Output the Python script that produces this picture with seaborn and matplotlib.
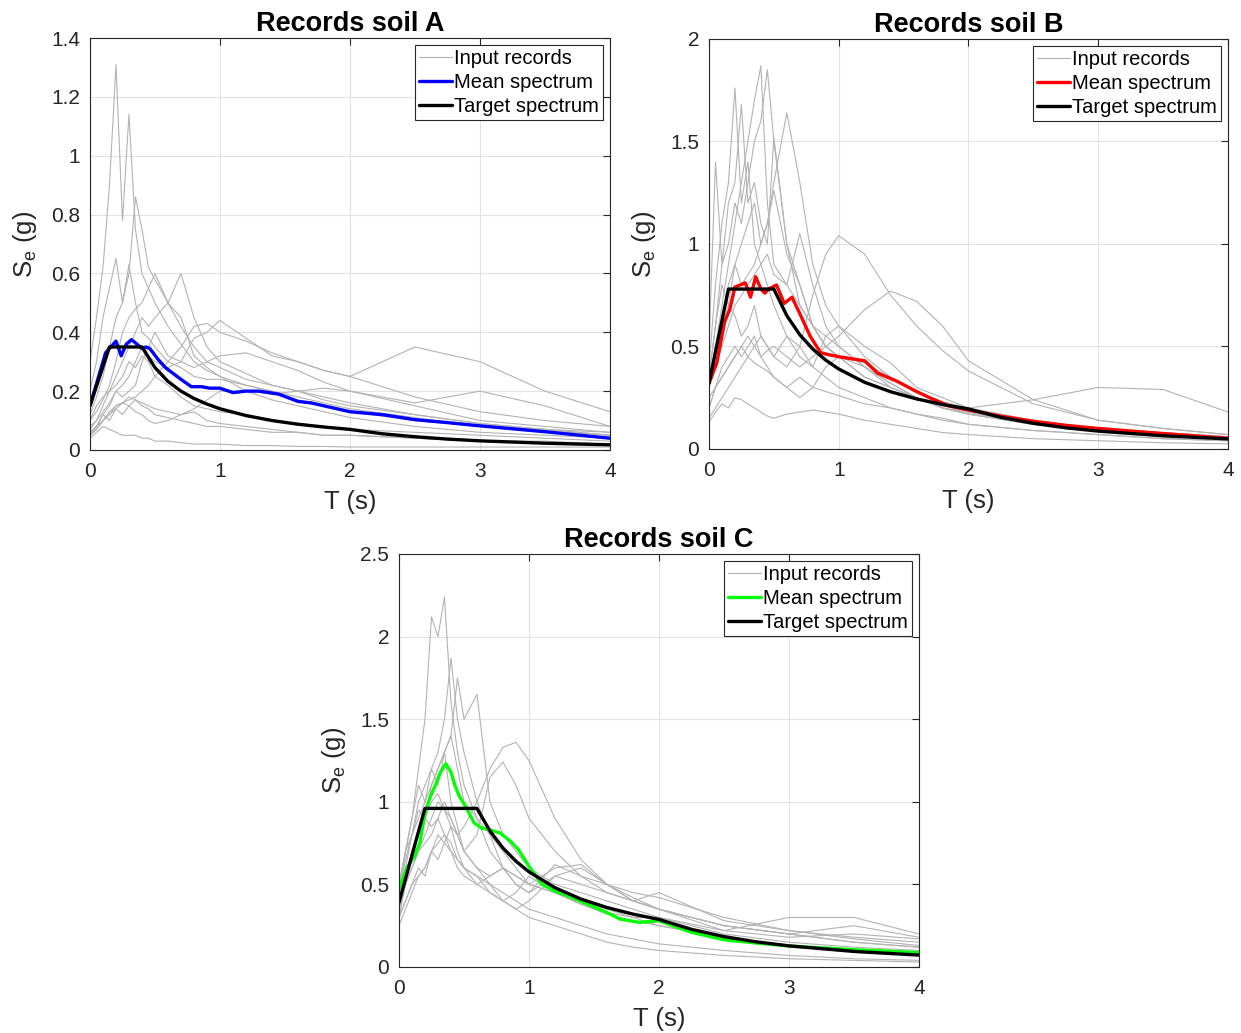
import numpy as np
import pandas as pd
import matplotlib
matplotlib.use("Agg")
import matplotlib.pyplot as plt
from matplotlib.lines import Line2D
from matplotlib.ticker import FuncFormatter
import seaborn as sns

# ---------------- data ----------------
periods = [0, 0.05, 0.1, 0.15, 0.2, 0.25, 0.3, 0.35, 0.4, 0.45, 0.5, 0.6, 0.7, 0.8,
           0.9, 1.0, 1.2, 1.4, 1.6, 1.8, 2.0, 2.5, 3.0, 3.5, 4.0]

records_A = [
    [0.30, 0.45, 0.62, 0.90, 1.31, 0.78, 1.14, 0.75, 0.60, 0.55, 0.50, 0.42, 0.36, 0.30, 0.27, 0.25, 0.22, 0.20, 0.18, 0.16, 0.14, 0.11, 0.08, 0.065, 0.05],
    [0.12, 0.18, 0.25, 0.35, 0.45, 0.50, 0.60, 0.86, 0.75, 0.62, 0.58, 0.50, 0.42, 0.35, 0.30, 0.28, 0.24, 0.22, 0.20, 0.17, 0.15, 0.12, 0.09, 0.07, 0.05],
    [0.20, 0.30, 0.45, 0.55, 0.65, 0.50, 0.63, 0.50, 0.40, 0.38, 0.35, 0.30, 0.28, 0.25, 0.24, 0.24, 0.22, 0.20, 0.17, 0.15, 0.13, 0.10, 0.08, 0.07, 0.06],
    [0.08, 0.10, 0.15, 0.20, 0.25, 0.30, 0.35, 0.40, 0.45, 0.42, 0.45, 0.50, 0.60, 0.45, 0.35, 0.30, 0.26, 0.22, 0.20, 0.18, 0.16, 0.12, 0.09, 0.07, 0.05],
    [0.10, 0.13, 0.17, 0.22, 0.30, 0.40, 0.45, 0.48, 0.50, 0.55, 0.60, 0.50, 0.45, 0.32, 0.28, 0.25, 0.20, 0.17, 0.15, 0.13, 0.11, 0.08, 0.06, 0.05, 0.04],
    [0.06, 0.08, 0.12, 0.15, 0.20, 0.22, 0.25, 0.30, 0.35, 0.32, 0.30, 0.28, 0.30, 0.38, 0.40, 0.44, 0.38, 0.32, 0.30, 0.27, 0.25, 0.18, 0.13, 0.10, 0.08],
    [0.05, 0.07, 0.10, 0.12, 0.15, 0.16, 0.17, 0.18, 0.20, 0.22, 0.25, 0.30, 0.35, 0.42, 0.43, 0.40, 0.37, 0.33, 0.30, 0.27, 0.25, 0.35, 0.30, 0.20, 0.13],
    [0.07, 0.10, 0.13, 0.16, 0.20, 0.18, 0.20, 0.22, 0.30, 0.35, 0.40, 0.32, 0.30, 0.28, 0.30, 0.32, 0.33, 0.30, 0.27, 0.23, 0.20, 0.16, 0.20, 0.15, 0.08],
    [0.05, 0.08, 0.10, 0.13, 0.15, 0.16, 0.18, 0.17, 0.16, 0.15, 0.14, 0.13, 0.12, 0.14, 0.17, 0.20, 0.20, 0.19, 0.20, 0.21, 0.20, 0.15, 0.10, 0.08, 0.06],
    [0.06, 0.08, 0.12, 0.10, 0.14, 0.12, 0.15, 0.13, 0.12, 0.10, 0.09, 0.10, 0.12, 0.13, 0.10, 0.09, 0.08, 0.07, 0.06, 0.05, 0.05, 0.04, 0.03, 0.025, 0.02],
    [0.04, 0.06, 0.08, 0.07, 0.06, 0.05, 0.05, 0.05, 0.04, 0.04, 0.03, 0.03, 0.025, 0.02, 0.02, 0.02, 0.015, 0.015, 0.012, 0.012, 0.01, 0.01, 0.01, 0.01, 0.01],
    [0.10, 0.15, 0.18, 0.20, 0.22, 0.25, 0.30, 0.28, 0.32, 0.30, 0.25, 0.22, 0.18, 0.15, 0.14, 0.13, 0.12, 0.10, 0.09, 0.08, 0.07, 0.06, 0.05, 0.04, 0.03],
    [0.05, 0.07, 0.10, 0.12, 0.14, 0.16, 0.15, 0.17, 0.15, 0.14, 0.12, 0.11, 0.10, 0.09, 0.08, 0.08, 0.07, 0.06, 0.06, 0.05, 0.05, 0.04, 0.03, 0.03, 0.02],
]

records_B = [
    [0.30, 0.50, 0.70, 0.90, 1.10, 1.30, 1.50, 1.70, 1.87, 1.20, 0.90, 0.80, 0.70, 0.60, 0.50, 0.45, 0.35, 0.30, 0.25, 0.20, 0.18, 0.12, 0.09, 0.07, 0.05],
    [0.35, 0.60, 0.90, 1.00, 1.20, 1.10, 1.30, 1.50, 1.60, 1.85, 1.50, 1.00, 0.70, 0.60, 0.55, 0.50, 0.40, 0.30, 0.25, 0.20, 0.17, 0.12, 0.09, 0.07, 0.05],
    [0.40, 0.80, 1.10, 1.30, 1.76, 1.20, 1.40, 1.00, 0.90, 0.80, 0.70, 0.55, 0.45, 0.40, 0.35, 0.30, 0.25, 0.20, 0.17, 0.14, 0.12, 0.09, 0.07, 0.05, 0.04],
    [0.30, 0.50, 0.60, 0.80, 0.90, 1.00, 1.10, 1.20, 1.00, 1.10, 1.30, 1.64, 1.30, 0.90, 0.70, 0.60, 0.45, 0.35, 0.28, 0.22, 0.18, 0.12, 0.09, 0.07, 0.05],
    [0.50, 1.40, 0.90, 1.20, 1.30, 1.68, 1.20, 1.30, 1.10, 1.00, 1.52, 1.00, 0.80, 0.60, 0.50, 0.45, 0.35, 0.30, 0.25, 0.20, 0.17, 0.12, 0.09, 0.07, 0.05],
    [0.35, 0.60, 0.80, 0.70, 0.90, 0.80, 0.85, 0.90, 1.00, 1.10, 1.26, 0.95, 0.80, 0.60, 0.50, 0.45, 0.40, 0.32, 0.25, 0.20, 0.17, 0.12, 0.09, 0.07, 0.05],
    [0.25, 0.30, 0.35, 0.40, 0.45, 0.50, 0.45, 0.50, 0.55, 0.50, 0.45, 0.40, 0.50, 0.75, 0.95, 1.04, 0.95, 0.75, 0.60, 0.48, 0.38, 0.22, 0.14, 0.10, 0.07],
    [0.30, 0.40, 0.50, 0.60, 0.70, 0.75, 0.80, 0.85, 0.90, 0.95, 0.85, 0.80, 1.05, 0.80, 0.60, 0.50, 0.40, 0.32, 0.25, 0.21, 0.18, 0.13, 0.10, 0.08, 0.06],
    [0.20, 0.30, 0.35, 0.40, 0.45, 0.50, 0.55, 0.50, 0.45, 0.48, 0.50, 0.45, 0.40, 0.45, 0.50, 0.55, 0.68, 0.77, 0.72, 0.60, 0.43, 0.24, 0.14, 0.10, 0.07],
    [0.15, 0.20, 0.25, 0.30, 0.35, 0.40, 0.45, 0.42, 0.40, 0.38, 0.35, 0.30, 0.25, 0.30, 0.40, 0.45, 0.42, 0.35, 0.28, 0.23, 0.20, 0.24, 0.30, 0.29, 0.18],
    [0.13, 0.18, 0.22, 0.20, 0.25, 0.24, 0.22, 0.20, 0.18, 0.16, 0.15, 0.17, 0.18, 0.19, 0.18, 0.17, 0.14, 0.12, 0.10, 0.08, 0.07, 0.05, 0.04, 0.03, 0.025],
    [0.20, 0.30, 0.40, 0.45, 0.50, 0.45, 0.50, 0.55, 0.45, 0.40, 0.35, 0.30, 0.35, 0.30, 0.28, 0.26, 0.22, 0.20, 0.17, 0.15, 0.12, 0.09, 0.07, 0.05, 0.04],
    [0.30, 0.50, 0.60, 0.70, 0.65, 0.55, 0.60, 0.70, 0.55, 0.50, 0.45, 0.55, 0.50, 0.40, 0.55, 0.60, 0.50, 0.42, 0.30, 0.25, 0.20, 0.14, 0.10, 0.08, 0.06],
]

records_C = [
    [0.45, 0.70, 0.90, 1.20, 1.50, 2.12, 2.00, 2.24, 1.60, 1.30, 1.10, 0.90, 0.70, 0.60, 0.55, 0.50, 0.45, 0.40, 0.35, 0.30, 0.25, 0.18, 0.13, 0.10, 0.08],
    [0.50, 0.70, 0.80, 1.00, 1.10, 1.20, 1.30, 1.50, 1.87, 1.50, 1.30, 1.00, 0.80, 0.70, 0.60, 0.50, 0.45, 0.38, 0.32, 0.28, 0.25, 0.18, 0.13, 0.10, 0.08],
    [0.40, 0.60, 0.80, 0.90, 1.00, 1.10, 1.20, 1.30, 1.40, 1.75, 1.50, 1.65, 1.00, 0.80, 0.70, 0.60, 0.50, 0.45, 0.40, 0.35, 0.30, 0.20, 0.15, 0.12, 0.10],
    [0.35, 0.50, 0.60, 0.70, 0.80, 0.90, 1.00, 0.95, 0.90, 0.80, 0.85, 1.00, 1.20, 1.33, 1.36, 1.25, 0.90, 0.65, 0.50, 0.42, 0.35, 0.25, 0.20, 0.15, 0.12],
    [0.40, 0.55, 0.70, 0.80, 0.90, 1.10, 1.20, 1.30, 1.00, 0.85, 0.70, 0.80, 1.15, 1.24, 1.10, 0.90, 0.70, 0.55, 0.45, 0.40, 0.35, 0.25, 0.20, 0.15, 0.12],
    [0.30, 0.50, 0.60, 0.70, 0.75, 0.80, 0.90, 1.00, 0.90, 0.80, 0.70, 0.60, 0.55, 0.60, 0.55, 0.50, 0.60, 0.62, 0.50, 0.40, 0.45, 0.28, 0.22, 0.17, 0.13],
    [0.30, 0.40, 0.50, 0.55, 0.60, 0.70, 0.75, 0.80, 0.70, 0.60, 0.55, 0.50, 0.45, 0.40, 0.35, 0.40, 0.55, 0.60, 0.50, 0.40, 0.35, 0.22, 0.30, 0.30, 0.20],
    [0.50, 0.70, 0.90, 1.10, 1.00, 1.20, 1.10, 1.30, 1.40, 1.20, 1.00, 0.90, 0.80, 0.60, 0.50, 0.45, 0.55, 0.50, 0.45, 0.40, 0.35, 0.25, 0.20, 0.25, 0.18],
    [0.25, 0.35, 0.45, 0.55, 0.60, 0.70, 0.80, 0.75, 0.70, 0.65, 0.60, 0.55, 0.50, 0.45, 0.40, 0.35, 0.30, 0.25, 0.20, 0.17, 0.14, 0.10, 0.07, 0.05, 0.04],
    [0.30, 0.40, 0.50, 0.60, 0.55, 0.70, 0.65, 0.75, 0.85, 0.80, 0.70, 0.60, 0.50, 0.40, 0.35, 0.30, 0.25, 0.20, 0.15, 0.12, 0.10, 0.07, 0.05, 0.04, 0.03],
    [0.45, 0.65, 0.80, 0.95, 0.90, 1.00, 1.05, 0.95, 0.85, 0.70, 0.60, 0.50, 0.55, 0.60, 0.50, 0.45, 0.62, 0.55, 0.50, 0.45, 0.42, 0.30, 0.22, 0.18, 0.15],
    [0.35, 0.50, 0.70, 0.80, 0.90, 0.85, 0.90, 0.80, 0.75, 0.65, 0.60, 0.55, 0.45, 0.40, 0.45, 0.55, 0.45, 0.38, 0.33, 0.30, 0.30, 0.22, 0.18, 0.20, 0.17],
]

mean_T = [0, 0.06, 0.12, 0.16, 0.2, 0.24, 0.28, 0.32, 0.36, 0.4, 0.43, 0.46, 0.52, 0.58,
          0.64, 0.7, 0.78, 0.86, 0.92, 1.0, 1.1, 1.2, 1.3, 1.45, 1.6, 1.7, 1.85, 2.0,
          2.25, 2.5, 2.75, 3.0, 3.5, 4.0]
mean_A = [0.15, 0.24, 0.33, 0.35, 0.37, 0.32, 0.36, 0.375, 0.36, 0.345, 0.35, 0.345, 0.31, 0.28,
          0.26, 0.24, 0.215, 0.215, 0.21, 0.21, 0.195, 0.2, 0.2, 0.19, 0.165, 0.16, 0.145, 0.13,
          0.12, 0.103, 0.093, 0.082, 0.062, 0.04]
mean_B = [0.32, 0.42, 0.62, 0.68, 0.79, 0.8, 0.81, 0.74, 0.84, 0.78, 0.76, 0.78, 0.8, 0.71,
          0.74, 0.66, 0.55, 0.47, 0.46, 0.45, 0.44, 0.43, 0.37, 0.33, 0.28, 0.25, 0.21, 0.19,
          0.16, 0.135, 0.115, 0.1, 0.075, 0.052]
mean_C = [0.47, 0.6, 0.67, 0.75, 0.93, 1.03, 1.1, 1.18, 1.23, 1.18, 1.1, 1.04, 0.96, 0.87,
          0.84, 0.83, 0.81, 0.76, 0.71, 0.61, 0.5, 0.46, 0.43, 0.38, 0.33, 0.29, 0.27, 0.28,
          0.21, 0.165, 0.145, 0.127, 0.105, 0.087]

target_T = [0, 0.15, 0.2, 0.4, 0.5, 0.6, 0.7, 0.8, 0.9, 1.0, 1.2, 1.4, 1.6, 1.8, 2.0,
            2.25, 2.5, 2.75, 3.0, 3.5, 4.0]
target_A = [0.15, 0.35, 0.35, 0.35, 0.28, 0.233, 0.2, 0.175, 0.156, 0.14, 0.117, 0.1, 0.0875,
            0.078, 0.07, 0.055, 0.045, 0.037, 0.031, 0.023, 0.0175]
target_B = [0.32, 0.78, 0.78, 0.78, 0.78, 0.65, 0.557, 0.4875, 0.433, 0.39, 0.325, 0.279, 0.244,
            0.217, 0.195, 0.154, 0.125, 0.103, 0.087, 0.064, 0.049]
target_C = [0.39, 0.82, 0.96, 0.96, 0.96, 0.96, 0.823, 0.72, 0.64, 0.576, 0.48, 0.411, 0.36,
            0.32, 0.288, 0.228, 0.184, 0.152, 0.128, 0.094, 0.072]

titles = ["Records soil A", "Records soil B", "Records soil C"]
mean_colors = ["#0000ff", "#ff0000", "#00ff00"]
y_limits = [1.4, 2.0, 2.5]
y_steps = [0.2, 0.5, 0.5]
x_ticks = [0, 1, 2, 3, 4]
legend_labels = ["Input records", "Mean spectrum", "Target spectrum"]

# ---------------- style ----------------
sns.set_style("white")
plt.rcParams["font.family"] = ["Liberation Sans", "DejaVu Sans"]
plt.rcParams["mathtext.fontset"] = "custom"
plt.rcParams["mathtext.rm"] = "Liberation Sans"
INK = "#262626"
GRAY = "#b3b3b3"

fig = plt.figure(figsize=(12.41, 10.33), dpi=100)
positions = [
    [0.0725, 0.5644, 0.4190, 0.3988],
    [0.5713, 0.5654, 0.4182, 0.3969],
    [0.3215, 0.0639, 0.4190, 0.3998],
]

all_records = [records_A, records_B, records_C]
all_means = [mean_A, mean_B, mean_C]
all_targets = [target_A, target_B, target_C]

fmt = FuncFormatter(lambda v, p: "%g" % round(v, 3))

for i in range(3):
    ax = fig.add_axes(positions[i])
    rows = []
    for r, rec in enumerate(all_records[i]):
        for t, s in zip(periods, rec):
            rows.append({"T": t, "Se": s, "rec": r})
    df = pd.DataFrame(rows)
    sns.lineplot(data=df, x="T", y="Se", units="rec", estimator=None,
                 color=GRAY, lw=0.8, ax=ax, legend=False)
    dfm = pd.DataFrame({"T": mean_T, "Se": all_means[i]})
    sns.lineplot(data=dfm, x="T", y="Se", color=mean_colors[i], lw=2.4, ax=ax,
                 estimator=None, legend=False)
    dft = pd.DataFrame({"T": target_T, "Se": all_targets[i]})
    sns.lineplot(data=dft, x="T", y="Se", color="black", lw=2.4, ax=ax,
                 estimator=None, legend=False)

    ax.set_xlim(0, 4)
    ax.set_ylim(0, y_limits[i])
    ax.set_xticks(x_ticks)
    ax.set_yticks(np.arange(0, y_limits[i] + 1e-9, y_steps[i]))
    ax.xaxis.set_major_formatter(fmt)
    ax.yaxis.set_major_formatter(fmt)
    ax.grid(True, color="#e2e2e2", lw=0.8)
    ax.set_axisbelow(True)
    for sp in ax.spines.values():
        sp.set_visible(True)
        sp.set_color(INK)
        sp.set_linewidth(0.8)
    ax.tick_params(direction="in", length=5, width=0.8, colors=INK, labelsize=15,
                   top=True, right=True, labelcolor=INK)
    ax.tick_params(axis="x", pad=9)
    ax.tick_params(axis="y", pad=7)
    ax.set_xlabel("T (s)", fontsize=18.5, color=INK, labelpad=6)
    ax.set_ylabel(r"$\mathregular{S_e}$ (g)", fontsize=18.5, color=INK, labelpad=9)
    ax.set_title(titles[i], fontsize=19.5, fontweight="bold", color="black", pad=5)

    handles = [Line2D([], [], color=GRAY, lw=0.8),
               Line2D([], [], color=mean_colors[i], lw=2.4),
               Line2D([], [], color="black", lw=2.4)]
    leg = ax.legend(handles, legend_labels, loc="upper right", fontsize=14.5,
                    frameon=True, fancybox=False, framealpha=1, edgecolor=INK,
                    handlelength=1.6, handletextpad=0.12, labelspacing=0.25,
                    borderpad=0.2, borderaxespad=0.35)
    leg.get_frame().set_linewidth(0.8)
    for txt in leg.get_texts():
        txt.set_color("black")

fig.savefig("out.png", dpi=100)
